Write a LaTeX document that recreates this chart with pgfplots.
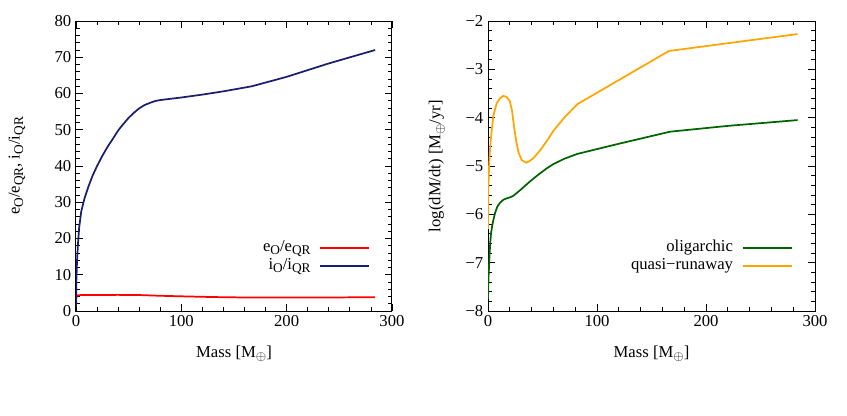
\documentclass[border=0pt]{standalone}
\usepackage{fontspec}
\setmainfont{Liberation Serif}
\usepackage{pgfplots}
\pgfplotsset{compat=1.18}

\definecolor{ered}{RGB}{255,0,0}
\definecolor{iblue}{RGB}{25,30,112}
\definecolor{oligreen}{RGB}{0,100,0}
\definecolor{qrorange}{RGB}{255,165,0}

\newcommand{\fs}{\fontsize{12.5}{15}\selectfont}
\newcommand{\sub}[1]{\raisebox{-0.45ex}{\fontsize{10}{12}\selectfont #1}}

\pgfplotsset{
  gp/.style={
    scale only axis,
    height=217.5pt,
    xmin=0, xmax=300,
    xtick={0,100,200,300},
    minor x tick num=4,
    minor y tick num=4,
    tick align=inside,
    major tick length=5pt,
    minor tick length=3pt,
    axis line style={line width=0.75pt},
    every tick/.style={black, line width=0.6pt},
    tick label style={font=\fs},
    /pgf/number format/assume math mode=true,
    xlabel={Mass [M\sub{$\oplus$}]},
    every axis x label/.style={at={(axis description cs:0.5,-0.148)}, anchor=center, font=\fs},
    legend cell align=right,
    legend plot pos=right,
    legend style={draw=none, fill=none, font=\fs, row sep=0pt,
      nodes={inner sep=1.5pt, text height=8pt, text depth=2.5pt},
      /tikz/every odd column/.append style={column sep=5pt},
      at={(axis description cs:0.945,0.115)}, anchor=south east},
    legend image code/.code={\draw[#1] (0pt,0pt) -- (37pt,0pt);},
    every axis plot/.append style={line width=1.3pt},
  }
}

\begin{document}
\begin{tikzpicture}
\useasboundingbox (-57pt,-78pt) rectangle (578.25pt,233.25pt);

% left panel: eccentricity and inclination ratios
\begin{axis}[gp,
  at={(0pt,0pt)}, anchor=south west,
  width=237pt,
  ymin=0, ymax=80,
  ytick={0,10,...,80},
  ylabel={e\sub{O}/e\sub{QR}, i\sub{O}/i\sub{QR}},
  every axis y label/.style={at={(axis description cs:-0.187,0.5)}, rotate=90, anchor=center, font=\fs},
]
\addplot[ered] coordinates {
  (0.02,1.5) (0.3,3.5) (1,4.3) (5,4.4) (20,4.42) (40,4.45) (60,4.4)
  (80,4.2) (100,4.05) (130,3.85) (167,3.7) (200,3.7) (250,3.75) (284,3.8)
};
\addlegendentry{e\sub{O}/e\sub{QR}}
\addplot[iblue] coordinates {
  (0.02,1) (0.1,4) (0.3,8) (1,14) (2,19) (3,23) (5,27.5) (8,31) (12,34.5)
  (16,37.5) (20,40) (25,42.8) (30,45.3) (35,47.5) (40,49.8) (45,51.6)
  (50,53.3) (55,54.7) (60,55.9) (65,56.8) (70,57.4) (75,57.9) (80,58.2)
  (100,58.9) (120,59.7) (140,60.6) (167,62) (200,64.6) (240,68.3) (284,72)
};
\addlegendentry{i\sub{O}/i\sub{QR}}
\end{axis}

% right panel: accretion rates
\begin{axis}[gp,
  at={(309pt,0pt)}, anchor=south west,
  width=245.25pt,
  ymin=-8, ymax=-2,
  ytick={-8,-7,-6,-5,-4,-3,-2},
  yticklabels={−8,−7,−6,−5,−4,−3,−2},
  ylabel={log(dM/dt) [M\sub{$\oplus$}/yr]},
  every axis y label/.style={at={(axis description cs:-0.156,0.5)}, rotate=90, anchor=center, font=\fs},
]
\addplot[oligreen] coordinates {
  (0.02,-7.75) (0.5,-7.3) (1.2,-6.94) (2,-6.6) (2.8,-6.39) (4,-6.22)
  (4.9,-6.12) (6.5,-5.97) (8.6,-5.84) (11,-5.76) (14,-5.70) (17,-5.67)
  (20,-5.65) (23,-5.62) (26.3,-5.56) (30,-5.49) (34,-5.41) (38.5,-5.32)
  (45,-5.2) (53.8,-5.05) (60,-4.96) (70,-4.85) (81.9,-4.75) (120,-4.54)
  (167,-4.29) (220,-4.17) (284,-4.05)
};
\addlegendentry{oligarchic}
\addplot[qrorange] coordinates {
  (0.05,-6.3) (0.3,-5.5) (1,-5.0) (2,-4.6) (3,-4.35) (5,-3.95) (8,-3.7)
  (11,-3.6) (14,-3.55) (17,-3.57) (20,-3.66) (22,-3.85) (24,-4.2)
  (26,-4.5) (28,-4.72) (31,-4.88) (35,-4.93) (38,-4.9) (42,-4.83)
  (48,-4.67) (55,-4.45) (60,-4.27) (70,-4.0) (82,-3.72) (166,-2.62)
  (284,-2.27)
};
\addlegendentry{quasi−runaway}
\end{axis}
\end{tikzpicture}
\end{document}
